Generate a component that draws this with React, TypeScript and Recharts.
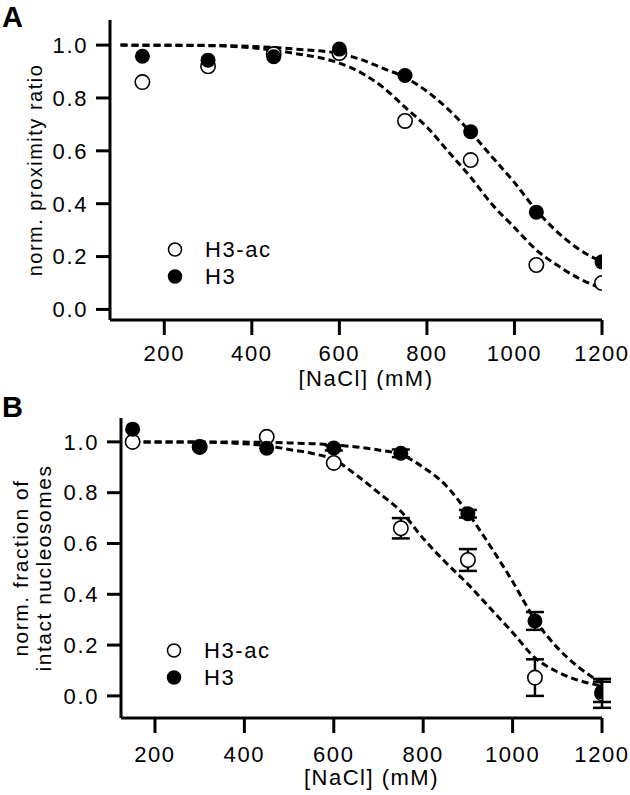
import React from 'react'
import {
  ComposedChart,
  Line,
  Scatter,
  XAxis,
  YAxis,
  ErrorBar,
  Legend
} from 'recharts'

// salt concentrations (mM) used in both panels
const saltMM = [150, 300, 450, 600, 750, 900, 1050, 1200]
const xTicks = [200, 400, 600, 800, 1000, 1200]
const yTicks = [0, 0.2, 0.4, 0.6, 0.8, 1.0]

// panel A: norm. proximity ratio
const proximityH3ac = [0.86, 0.92, 0.966, 0.97, 0.713, 0.565, 0.168, 0.1]
const proximityH3 = [0.958, 0.943, 0.956, 0.985, 0.885, 0.672, 0.368, 0.18]

// panel A: fitted curves
const fitSaltA = [100, 300, 400, 500, 600, 650, 700, 750, 800, 850, 900, 950, 1000, 1050, 1100, 1150, 1200]
const fitProxH3ac = [1.0, 0.998, 0.99, 0.968, 0.932, 0.895, 0.84, 0.765, 0.69, 0.595, 0.5, 0.395, 0.31, 0.225, 0.165, 0.115, 0.08]
const fitProxH3 = [1.0, 0.999, 0.995, 0.985, 0.968, 0.945, 0.912, 0.878, 0.825, 0.755, 0.67, 0.575, 0.48, 0.375, 0.29, 0.225, 0.18]

// panel B: norm. fraction of intact nucleosomes (mean and error)
const intactH3ac = [1.0, 0.98, 1.02, 0.917, 0.66, 0.535, 0.072, 0.01]
const intactH3acErr = [0, 0, 0, 0, 0.04, 0.043, 0.072, 0.057]
const intactH3 = [1.05, 0.98, 0.975, 0.976, 0.955, 0.717, 0.295, 0.016]
const intactH3Err = [0, 0, 0, 0.01, 0.015, 0.015, 0.035, 0.04]

// panel B: fitted curves
const fitSaltB = [150, 300, 450, 500, 550, 600, 650, 700, 750, 800, 850, 900, 950, 1000, 1050, 1100, 1150, 1200]
const fitIntactH3ac = [1.0, 0.999, 0.985, 0.97, 0.955, 0.93, 0.87, 0.8, 0.727, 0.62, 0.526, 0.44, 0.345, 0.25, 0.15, 0.095, 0.06, 0.04]
const fitIntactH3 = [1.0, 1.0, 0.998, 0.996, 0.993, 0.988, 0.98, 0.968, 0.95, 0.9, 0.83, 0.72, 0.59, 0.45, 0.3, 0.19, 0.11, 0.05]

const FONT = '"Liberation Sans", Arial, Helvetica, sans-serif'
const tickStyle = { fill: '#000', fontSize: 22, fontFamily: FONT, letterSpacing: 1.6 }
const axisStroke = { stroke: '#000', strokeWidth: 3 }

const points = (ys: number[], errs?: number[]) =>
  saltMM.map((x, i) => ({ x, y: ys[i], err: errs ? errs[i] : 0 }))
const curve = (xs: number[], ys: number[]) => xs.map((x, i) => ({ x, y: ys[i] }))

// eslint-disable-next-line @typescript-eslint/no-explicit-any
const OpenDot = (props: any) => (
  <circle cx={props.cx} cy={props.cy} r={7.2} fill="#fff" stroke="#000" strokeWidth={1.6} />
)
// eslint-disable-next-line @typescript-eslint/no-explicit-any
const FilledDot = (props: any) => <circle cx={props.cx} cy={props.cy} r={7.5} fill="#000" />

const LegendBox = () => (
  <div style={{ fontFamily: FONT, fontSize: 22, letterSpacing: 1.6, color: '#000' }}>
    {[
      { name: 'H3-ac', open: true },
      { name: 'H3', open: false }
    ].map(item => (
      <div key={item.name} style={{ display: 'flex', alignItems: 'center', height: 27 }}>
        <svg width={40} height={27}>
          <circle
            cx={10}
            cy={13.5}
            r={6.5}
            fill={item.open ? '#fff' : '#000'}
            stroke="#000"
            strokeWidth={1.5}
          />
        </svg>
        <span>{item.name}</span>
      </div>
    ))}
  </div>
)

const yTitle = (lines: string[], offsets: number[], size: number) =>
  // eslint-disable-next-line @typescript-eslint/no-explicit-any
  (props: any) => {
    const vb = props.viewBox
    const cy = vb.y + vb.height / 2
    return (
      <g>
        {lines.map((t, i) => {
          const cx = vb.x + offsets[i]
          return (
            <text
              key={t}
              x={cx}
              y={cy}
              transform={`rotate(-90 ${cx} ${cy})`}
              textAnchor="middle"
              dominantBaseline="central"
              fontFamily={FONT}
              fontSize={size}
              letterSpacing={1.5}
              fill="#000"
            >
              {t}
            </text>
          )
        })}
      </g>
    )
  }

interface PanelProps {
  height: number
  top: number
  axisWidth: number
  xAxisHeight: number
  xMin: number
  yDomain: [number, number]
  tickMargin: number
  xLabelOffset: number
  yLabel: (props: unknown) => React.ReactElement
  legendPos: { left: number; top: number }
  openData: { x: number; y: number; err: number }[]
  filledData: { x: number; y: number; err: number }[]
  openFit: { x: number; y: number }[]
  filledFit: { x: number; y: number }[]
  errorBars: boolean
}

const Panel = (p: PanelProps) => (
  <ComposedChart width={630} height={p.height} margin={{ top: p.top, right: 28, left: 0, bottom: 0 }}>
    <XAxis
      type="number"
      dataKey="x"
      domain={[p.xMin, 1200]}
      ticks={xTicks}
      allowDataOverflow
      height={p.xAxisHeight}
      tickSize={15}
      tickMargin={p.tickMargin}
      axisLine={axisStroke}
      tickLine={axisStroke}
      tick={tickStyle}
      label={{
        value: '[NaCl] (mM)',
        position: 'insideBottom',
        offset: p.xLabelOffset,
        dx: 10,
        style: { fill: '#000', fontSize: 22, fontFamily: FONT, letterSpacing: 1.5 }
      }}
    />
    <YAxis
      type="number"
      domain={p.yDomain}
      ticks={yTicks}
      allowDataOverflow
      width={p.axisWidth}
      tickSize={14}
      tickMargin={8}
      axisLine={axisStroke}
      tickLine={axisStroke}
      tick={tickStyle}
      tickFormatter={(v: number) => v.toFixed(1)}
      label={p.yLabel}
    />
    <Legend content={<LegendBox />} layout="vertical" align="center" verticalAlign="middle" wrapperStyle={{ ...p.legendPos, width: 'auto' }} />
    <Line
      data={p.openFit}
      dataKey="y"
      type="monotone"
      stroke="#000"
      strokeWidth={3}
      strokeDasharray="7 4"
      dot={false}
      activeDot={false}
      legendType="none"
      isAnimationActive={false}
    />
    <Line
      data={p.filledFit}
      dataKey="y"
      type="monotone"
      stroke="#000"
      strokeWidth={3}
      strokeDasharray="7 4"
      dot={false}
      activeDot={false}
      legendType="none"
      isAnimationActive={false}
    />
    <Scatter data={p.openData} dataKey="y" name="H3-ac" shape={OpenDot} isAnimationActive={false}>
      {p.errorBars && <ErrorBar dataKey="err" direction="y" width={9} stroke="#000" strokeWidth={2.5} />}
    </Scatter>
    <Scatter data={p.filledData} dataKey="y" name="H3" shape={FilledDot} isAnimationActive={false}>
      {p.errorBars && <ErrorBar dataKey="err" direction="y" width={9} stroke="#000" strokeWidth={2.5} />}
    </Scatter>
  </ComposedChart>
)

const panelLetter = (top: number): React.CSSProperties => ({
  position: 'absolute',
  left: 2,
  top,
  fontFamily: FONT,
  fontWeight: 'bold',
  fontSize: 29,
  lineHeight: '29px',
  color: '#000'
})

export default function App() {
  return (
    <div style={{ position: 'absolute', left: 0, top: 0, width: 630, height: 795, background: '#fff', overflow: 'hidden' }}>
      <div style={{ position: 'absolute', left: 0, top: 0 }}>
        <Panel
          height={390}
          top={20}
          axisWidth={110}
          xAxisHeight={70}
          xMin={76}
          yDomain={[-0.04, 1.095]}
          tickMargin={10}
          xLabelOffset={4}
          yLabel={yTitle(['norm. proximity ratio'], [35], 20)}
          legendPos={{ left: 165, top: 236 }}
          openData={points(proximityH3ac)}
          filledData={points(proximityH3)}
          openFit={curve(fitSaltA, fitProxH3ac)}
          filledFit={curve(fitSaltA, fitProxH3)}
          errorBars={false}
        />
      </div>
      <div style={{ position: 'absolute', left: 0, top: 390 }}>
        <Panel
          height={405}
          top={28}
          axisWidth={121}
          xAxisHeight={77}
          xMin={124}
          yDomain={[-0.087, 1.094]}
          tickMargin={13}
          xLabelOffset={10}
          yLabel={yTitle(['norm. fraction of', 'intact nucleosomes'], [20, 43], 21)}
          legendPos={{ left: 164, top: 247 }}
          openData={points(intactH3ac, intactH3acErr)}
          filledData={points(intactH3, intactH3Err)}
          openFit={curve(fitSaltB, fitIntactH3ac)}
          filledFit={curve(fitSaltB, fitIntactH3)}
          errorBars
        />
      </div>
      <div style={panelLetter(3)}>A</div>
      <div style={panelLetter(393)}>B</div>
    </div>
  )
}
